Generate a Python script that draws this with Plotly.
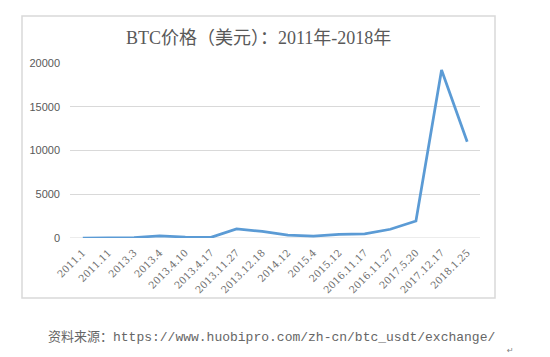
import plotly.graph_objects as go

categories = ["2011.1", "2011.11", "2013.3", "2013.4", "2013.4.10", "2013.4.17",
              "2013.11.27", "2013.12.18", "2014.12", "2015.4", "2015.12",
              "2016.11.17", "2016.11.27", "2017.5.20", "2017.12.17", "2018.1.25"]
prices = [0.3, 3, 50, 250, 100, 70, 1030, 750, 320, 220, 420, 480, 1000, 1950, 19200, 11000]
y_ticks = [0, 5000, 10000, 15000, 20000]

title_text = "BTC价格（美元）：2011年-2018年"
source_text = "资料来源：https://www.huobipro.com/zh-cn/btc_usdt/exchange/"

W, H = 550, 357
L, R, T, B = 70, 70, 63, 119
pw, ph = W - L - R, H - T - B

def px(x):
    return (x - L) / pw

def py(y):
    return (H - B - y) / ph

fig = go.Figure()
fig.add_trace(go.Scatter(
    x=categories, y=prices, mode="lines",
    line=dict(color="#5B9BD5", width=2.75),
    hoverinfo="x+y",
))

fig.update_layout(
    width=W, height=H,
    margin=dict(l=L, r=R, t=T, b=B, pad=0),
    paper_bgcolor="white", plot_bgcolor="white",
    showlegend=False,
    xaxis=dict(
        type="category", range=[-0.5, len(categories) - 0.5],
        tickangle=-45, showgrid=False, zeroline=False, showline=False,
        ticks="", ticklabelstandoff=6,
        tickfont=dict(family="DejaVu Serif, Noto Sans CJK SC", size=10, color="#6F6F6F"),
    ),
    yaxis=dict(
        range=[0, 20000], tickvals=y_ticks, ticktext=[str(v) for v in y_ticks],
        showgrid=True, gridcolor="#D9D9D9", gridwidth=1, zeroline=False,
        showline=False, ticks="", ticklabelstandoff=9,
        tickfont=dict(family="Liberation Sans, Arial, sans-serif", size=11, color="#595959"),
    ),
    shapes=[
        dict(type="line", xref="x", yref="y", x0=-0.5, x1=len(categories) - 0.5,
             y0=0, y1=0, line=dict(color="#D9D9D9", width=1), layer="below"),
        dict(type="rect", xref="paper", yref="paper",
             x0=px(22), x1=px(495), y0=py(298), y1=py(16),
             line=dict(color="#D9D9D9", width=1.5), layer="below"),
    ],
    annotations=[
        dict(text=title_text, xref="paper", yref="paper", x=px(258.5), y=py(38),
             xanchor="center", yanchor="middle", showarrow=False,
             font=dict(family="Liberation Serif, Noto Sans CJK SC", size=18, color="#595959")),
        dict(text=source_text, xref="paper", yref="paper", x=px(271), y=py(337),
             xanchor="center", yanchor="middle", showarrow=False,
             font=dict(family="Liberation Mono, Noto Sans CJK SC", size=13, color="#666666")),
        dict(text="↵", xref="paper", yref="paper", x=px(510), y=py(350),
             xanchor="center", yanchor="middle", showarrow=False,
             font=dict(family="DejaVu Sans", size=8, color="#7F7F7F")),
    ],
)

fig.write_html("out.html")
